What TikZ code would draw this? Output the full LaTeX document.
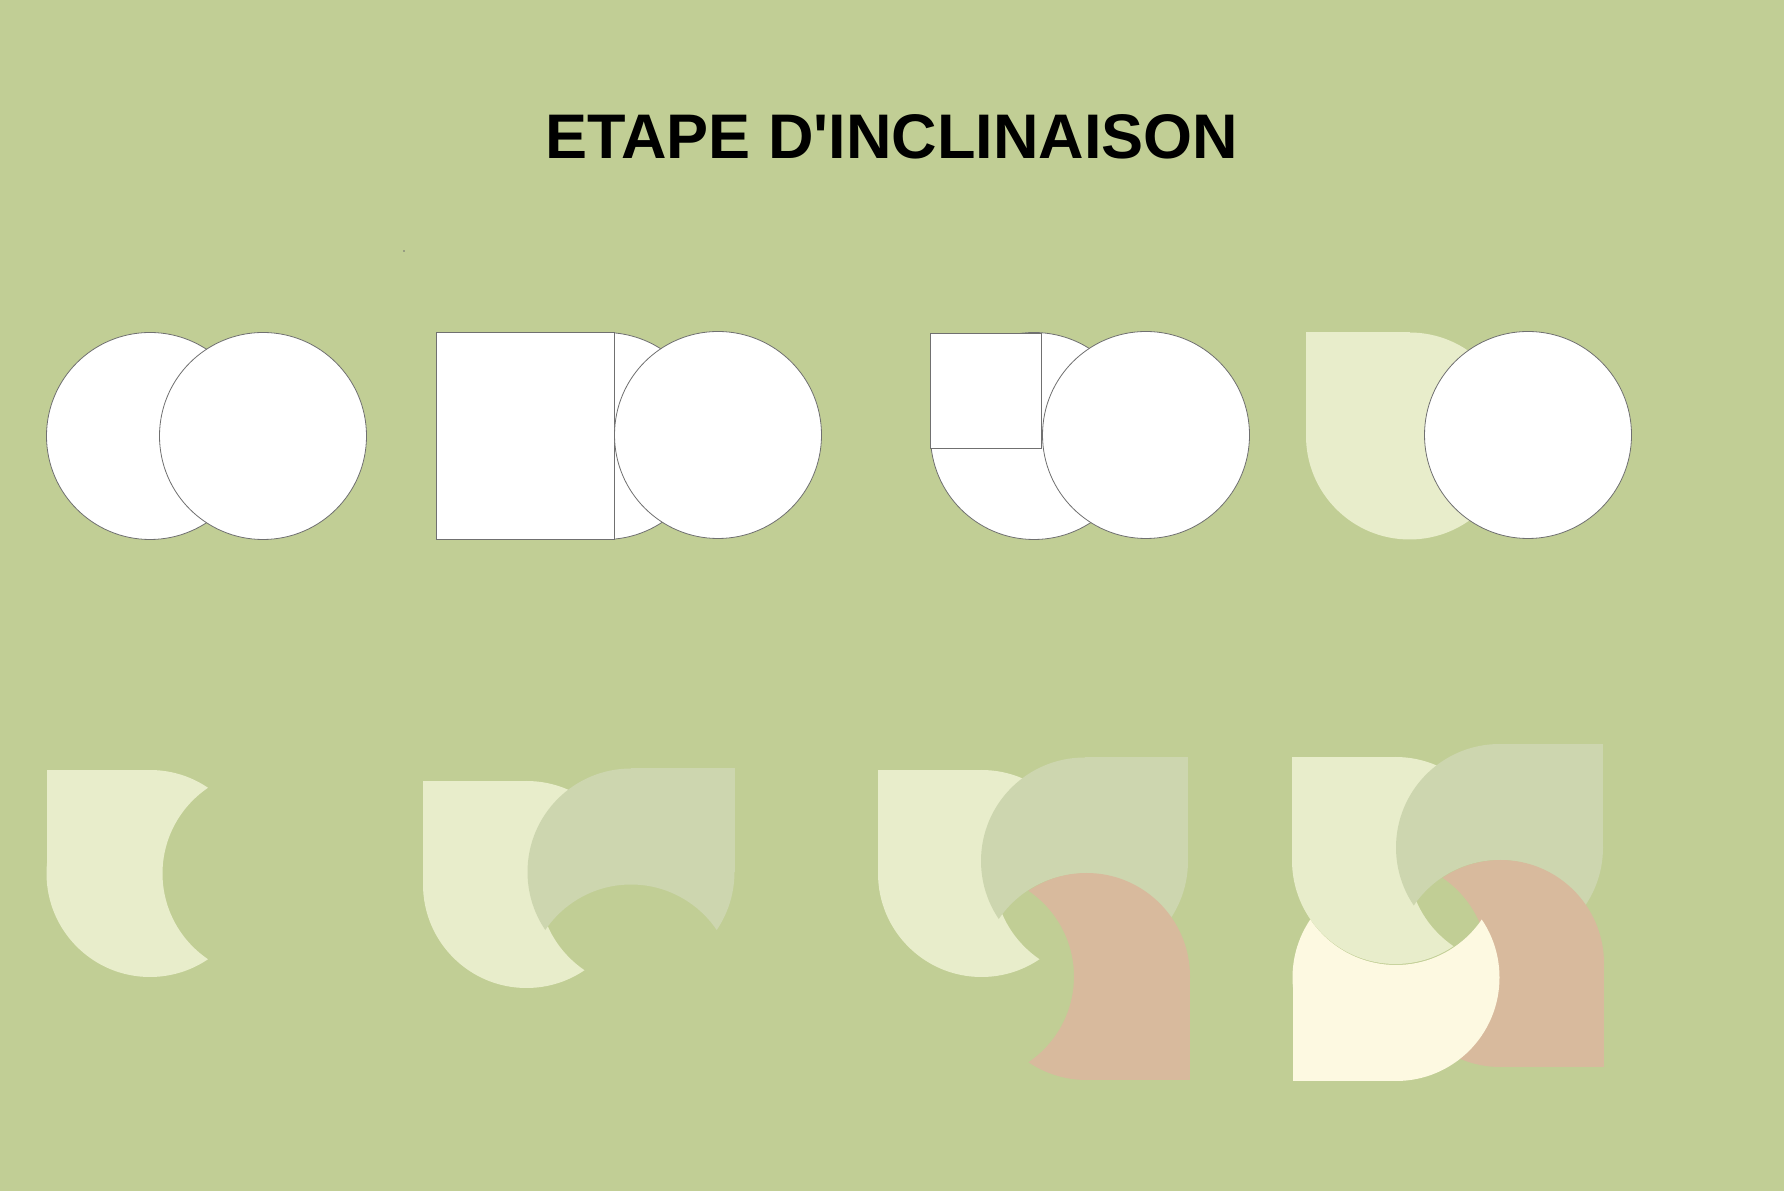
\documentclass[tikz,border=0pt]{standalone}
\usepackage{fontspec}
\setmainfont{Liberation Sans}[Ligatures=TeXOff]
\definecolor{fond}{HTML}{C1CE95}
\definecolor{vertclair}{HTML}{E8EDCB}
\definecolor{vertgris}{HTML}{CDD6AF}
\definecolor{beige}{HTML}{D8BA9D}
\definecolor{creme}{HTML}{FDF9E1}
\definecolor{trait}{HTML}{707070}
% une maille : centre x, centre y, rotation, couleur
\newcommand{\maille}[4]{%
	\begin{scope}[shift={(#1,#2)}, rotate=#3, even odd rule]
		\clip (-130,-130) rectangle (130,130) (116,0) circle (103.5);
		\fill[#4] (0,0) circle (103.5);
		\fill[#4] (-103.5,0) rectangle (0,103.5);
	\end{scope}}
\begin{document}
\begin{tikzpicture}[x=1pt, y=1pt,
		disque/.style={fill=white, draw=trait, line width=0.8pt},
		carre/.style={fill=white, draw=trait, line width=0.8pt}]
	\fill[fond] (0,0) rectangle (1784,1191);
	\node[anchor=base, font=\fontsize{63}{70}\selectfont\bfseries] (titre) at (892,1032) {ETAPE D'INCLINAISON};
	\fill[trait] (404,940) circle (0.8);
	% ligne du haut
	\draw[disque] (150,755) circle (103.5);
	\draw[disque] (263,755) circle (103.5);
	\draw[disque] (605,755) circle (103.5);
	\draw[carre] (436,652) rectangle (614,859);
	\draw[disque] (718,756) circle (103.5);
	\draw[disque] (1034,755) circle (103.5);
	\draw[carre] (930,743) rectangle (1041,858);
	\draw[disque] (1146,756) circle (103.5);
	\fill[vertclair] (1409.5,755) circle (103.5);
	\fill[vertclair] (1306,755) rectangle (1409.5,859);
	\draw[disque] (1528,756) circle (103.5);
	% ligne du bas
	\maille{150}{317.5}{0}{vertclair}
	\maille{526.5}{306.5}{0}{vertclair}
	\maille{631}{319}{-90}{vertgris}
	\maille{981.5}{317.5}{0}{vertclair}
	\maille{1084.5}{330}{-90}{vertgris}
	\maille{1086.5}{214.5}{180}{beige}
	\maille{1395.5}{330.5}{0}{vertclair}
	\maille{1499.5}{343.5}{-90}{vertgris}
	\maille{1500.5}{227.5}{180}{beige}
	\maille{1396}{213.5}{90}{creme}
\end{tikzpicture}
\end{document}
